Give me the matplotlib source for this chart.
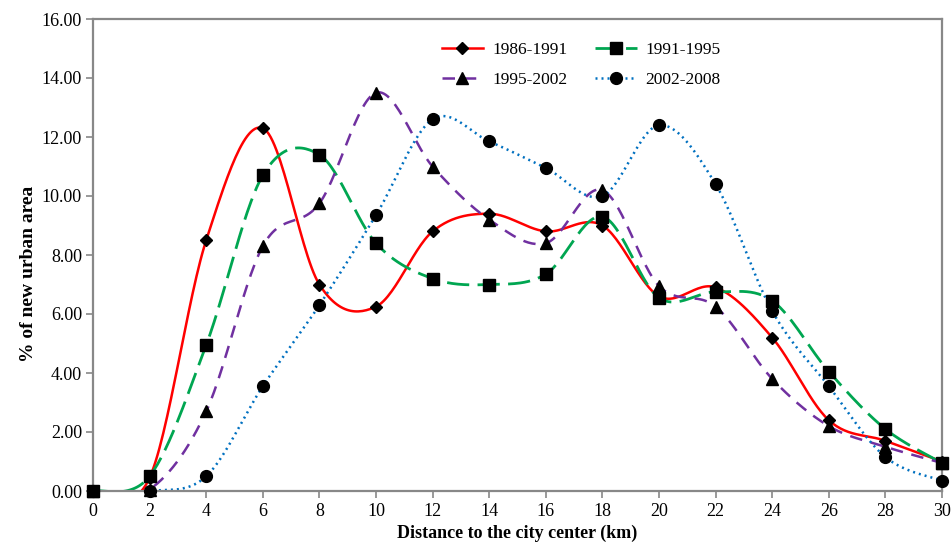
import numpy as np
import matplotlib
matplotlib.use("Agg")
import matplotlib.pyplot as plt
from matplotlib.lines import Line2D

distance = [0, 2, 4, 6, 8, 10, 12, 14, 16, 18, 20, 22, 24, 26, 28, 30]
s1986_1991 = [0, 0.45, 8.5, 12.3, 7.0, 6.25, 8.8, 9.4, 8.8, 9.0, 6.6, 6.9, 5.2, 2.4, 1.7, 1.0]
s1991_1995 = [0, 0.5, 4.95, 10.7, 11.4, 8.4, 7.2, 7.0, 7.35, 9.3, 6.55, 6.75, 6.45, 4.05, 2.1, 0.95]
s1995_2002 = [0, 0.05, 2.7, 8.3, 9.75, 13.5, 11.0, 9.2, 8.4, 10.2, 6.95, 6.25, 3.8, 2.2, 1.5, 0.95]
s2002_2008 = [0, 0.0, 0.5, 3.55, 6.3, 9.35, 12.6, 11.85, 10.95, 10.0, 12.4, 10.4, 6.1, 3.55, 1.15, 0.35]
labels = ["1986-1991", "1991-1995", "1995-2002", "2002-2008"]
yticks = [0, 2, 4, 6, 8, 10, 12, 14, 16]


def smooth(x, y, n=30):
    """Excel-like smoothed line (Catmull-Rom Bezier) through the data points."""
    x = np.asarray(x, float)
    y = np.asarray(y, float)
    px = np.concatenate([[x[0]], x, [x[-1]]])
    py = np.concatenate([[y[0]], y, [y[-1]]])
    xs, ys = [], []
    t = np.linspace(0, 1, n)
    for i in range(1, len(px) - 2):
        p0 = np.array([px[i], py[i]])
        p3 = np.array([px[i + 1], py[i + 1]])
        c1 = p0 + (np.array([px[i + 1], py[i + 1]]) - np.array([px[i - 1], py[i - 1]])) / 6
        c2 = p3 - (np.array([px[i + 2], py[i + 2]]) - np.array([px[i], py[i]])) / 6
        b = ((1 - t) ** 3)[:, None] * p0 + (3 * (1 - t) ** 2 * t)[:, None] * c1 \
            + (3 * (1 - t) * t ** 2)[:, None] * c2 + (t ** 3)[:, None] * p3
        xs.append(b[:, 0])
        ys.append(b[:, 1])
    return np.concatenate(xs), np.concatenate(ys)


plt.rcParams['font.family'] = ['Liberation Serif', 'DejaVu Serif']
fig = plt.figure(figsize=(9.52, 5.49), dpi=100)
ax = fig.add_axes([93 / 952, 1 - 491 / 549, (942 - 93) / 952, (491 - 19) / 549])

series = [s1986_1991, s1991_1995, s1995_2002, s2002_2008]
colors = ["#FF0000", "#00A651", "#7030A0", "#0070C0"]
dashes = [None, (8, 3), (5, 3.5), (0.8, 1.6)]
markers = ["D", "s", "^", "o"]
msizes = [6, 8.5, 8, 8.5]
lws = [1.8, 2.0, 1.8, 1.8]

handles = []
for vals, c, d, m, ms, lw, lab in zip(series, colors, dashes, markers, msizes, lws, labels):
    sx, sy = smooth(distance, vals)
    ln, = ax.plot(sx, sy, color=c, lw=lw, zorder=2)
    if d is not None:
        ln.set_dashes(d)
    ax.plot(distance, vals, linestyle='none', marker=m, ms=ms, color='black', zorder=3, clip_on=False)
    h = Line2D([0], [0], color=c, lw=lw, marker=m, ms=ms, mfc='black', mec='black')
    if d is not None:
        h.set_dashes(d)
    handles.append(h)

ax.set_xlim(0, 30)
ax.set_ylim(0, 16)
ax.set_xticks(distance)
ax.set_xticklabels([str(v) for v in distance], fontsize=13)
ax.set_yticks(yticks)
ax.set_yticklabels([f"{v:.2f}" for v in yticks], fontsize=13)
for s in ax.spines.values():
    s.set_color('#888888')
    s.set_linewidth(1.6)
ax.tick_params(axis='y', direction='out', length=5, color='#888888', width=1.2, pad=3)
ax.tick_params(axis='x', direction='out', length=5, color='#888888', width=1.2, pad=4)
ax.set_xlabel("Distance to the city center (km)", fontsize=13, fontweight='bold', labelpad=3)
ax.set_ylabel("% of new urban area", fontsize=14, fontweight='bold')
ax.yaxis.set_label_coords(-0.066, 0.46)

# legend order: row1: 1986-1991, 1991-1995 ; row2: 1995-2002, 2002-2008
leg = fig.legend([handles[0], handles[2], handles[1], handles[3]],
                 [labels[0], labels[2], labels[1], labels[3]],
                 ncol=2, frameon=False, loc='upper left',
                 bbox_to_anchor=(426 / 952, 1 - 26 / 549), fontsize=12.5,
                 handlelength=2.4, columnspacing=1.6, labelspacing=0.8, handletextpad=0.5)

fig.savefig("out.png", dpi=100)
